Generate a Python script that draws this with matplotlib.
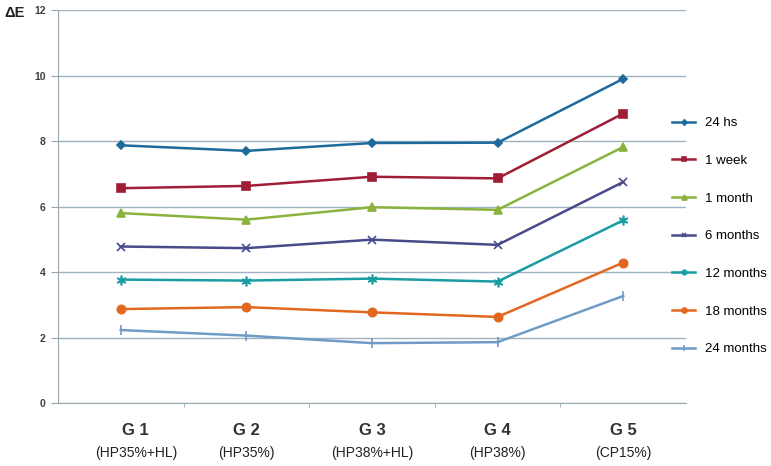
import matplotlib.pyplot as plt
from matplotlib.transforms import blended_transform_factory

plt.rcParams['font.family'] = ['Liberation Sans', 'DejaVu Sans']

groups = ["G 1", "G 2", "G 3", "G 4", "G 5"]
subtitles = ["(HP35%+HL)", "(HP35%)", "(HP38%+HL)", "(HP38%)", "(CP15%)"]

hs24 = [7.87, 7.70, 7.94, 7.95, 9.90]
week1 = [6.56, 6.63, 6.91, 6.86, 8.84]
month1 = [5.80, 5.60, 5.98, 5.90, 7.82]
month6 = [4.78, 4.73, 4.99, 4.83, 6.75]
month12 = [3.77, 3.74, 3.80, 3.71, 5.58]
month18 = [2.87, 2.93, 2.77, 2.63, 4.29]
month24 = [2.23, 2.06, 1.83, 1.86, 3.27]

series = [
    ("24 hs", hs24, "#1f6a9c", "D", 4.5),
    ("1 week", week1, "#9e1f35", "s", 6),
    ("1 month", month1, "#8ab23c", "^", 6),
    ("6 months", month6, "#484a8a", "x", 6),
    ("12 months", month12, "#1a9ca3", (6, 2, 0), 7),
    ("18 months", month18, "#e2681f", "o", 6),
    ("24 months", month24, "#6f9cc6", "|", 7),
]

fig = plt.figure(figsize=(7.71, 4.66), dpi=100)
ax = fig.add_axes([0.0752, 0.135, 0.8146, 0.8435])

x = list(range(len(groups)))
for name, vals, col, mk, ms in series:
    ax.plot(x, vals, color=col, marker=mk, markersize=ms, linewidth=1.8,
            markeredgewidth=1.2, label=name)

ax.set_xlim(-0.5, 4.5)
ax.set_ylim(0, 12)
ax.set_yticks(range(0, 13, 2))
ax.yaxis.grid(True, color="#9fb2bd", linewidth=1)
ax.set_axisbelow(True)

for s in ["top", "right"]:
    ax.spines[s].set_visible(False)
for s in ["left", "bottom"]:
    ax.spines[s].set_color("#9aa8b0")

ax.tick_params(axis="y", labelsize=7.5, labelcolor="#404040", length=5,
               width=0.8, color="#9aa8b0", pad=4)
for lbl in ax.get_yticklabels():
    lbl.set_fontweight("bold")

ax.set_xticks(x)
ax.set_xticklabels([])
ax.tick_params(axis="x", length=0)
ax.set_xticks([0.5, 1.5, 2.5, 3.5], minor=True)
ax.tick_params(axis="x", which="minor", length=3, color="#9aa8b0")

# group labels sit under the axis; the first pair is nudged right like the original
tr = blended_transform_factory(ax.transData, ax.transAxes)
for i, (g, sub) in enumerate(zip(groups, subtitles)):
    dx = 0.12 if i == 0 else 0
    ax.text(i + dx, -0.071, g, transform=tr, ha="center", va="center",
            fontsize=12, fontweight="bold", color="#333333")
    ax.text(i + dx, -0.127, sub, transform=tr, ha="center", va="center",
            fontsize=10, color="#222222")

fig.text(0.019, 0.973, "ΔE", fontsize=10.5, fontweight="bold", ha="center",
         va="center", color="#222222")

ax.legend(loc="upper left", bbox_to_anchor=(672 / 771, 1 - 117 / 466),
          bbox_transform=fig.transFigure, frameon=False, fontsize=9.5,
          labelspacing=1.93, handlelength=1.75, handletextpad=0.75,
          markerscale=0.6, borderaxespad=0, borderpad=0)

fig.savefig("out.png", dpi=100)
